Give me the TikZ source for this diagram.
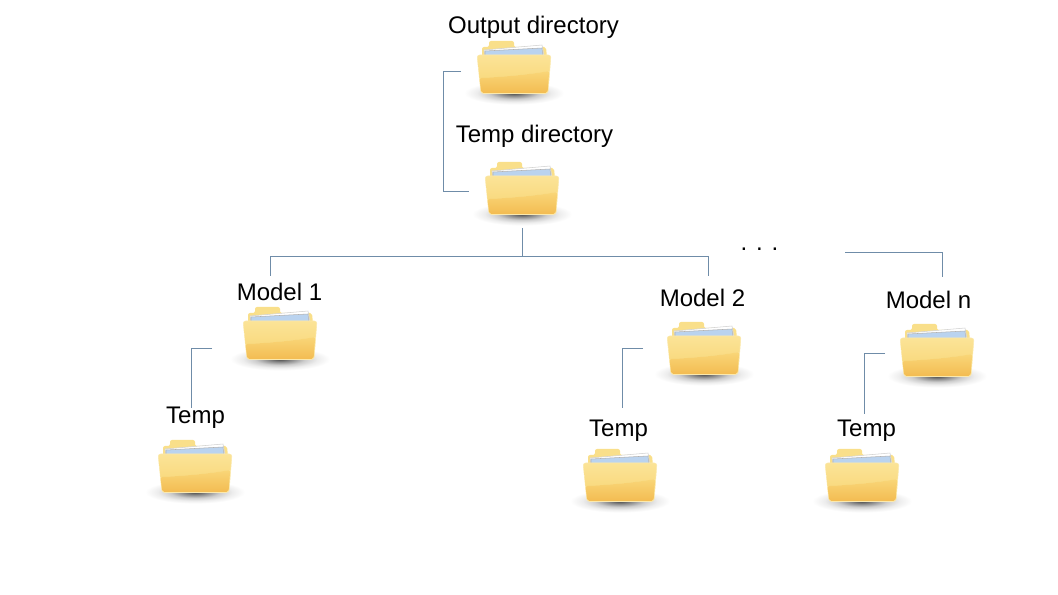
\documentclass[tikz,border=0pt]{standalone}
\usepackage{fontspec}
\setmainfont{Liberation Sans}
\usepackage{xcolor}
\usetikzlibrary{calc}
\definecolor{linkblue}{HTML}{6F8CA8}
\definecolor{folderedge}{HTML}{FBE9AE}
\definecolor{foldertop}{HTML}{FBE396}
\definecolor{foldermid}{HTML}{F9DA80}
\definecolor{folderlow}{HTML}{F9D678}
\definecolor{folderend}{HTML}{F3BC52}
\definecolor{folderback}{HTML}{F9DF8A}
\definecolor{paperblue}{HTML}{BAD3EF}
\pgfdeclareradialshading{foldershadow}{\pgfpointorigin}{color(0bp)=(black!72); color(6bp)=(black!45); color(12bp)=(black!20); color(18bp)=(black!7); color(24bp)=(white); color(50bp)=(white)}
\tikzset{
    link/.style={draw=linkblue, line width=0.65pt, line join=miter},
    lbl/.style={anchor=base, inner sep=0pt, font=\fontsize{18}{20}\selectfont},
    folder/.pic={
      % shadow
      \shade[shading=foldershadow] (0,-1) ellipse (52 and 12);
      % back and tab
      \fill[fill=folderback, rounded corners=1.5pt] (-32,-36)--(-32,-47)--(-25,-47)--(-25,-53)--(0,-53)--(0,-47)--(32,-47)--(33,-36)--cycle;
      % papers
      \draw[draw=black!18, fill=white] (-30,-44)--(28,-49)--(30,-38)--(-29,-38)--cycle;
      \draw[draw=black!30, fill=paperblue] (-29,-43)--(28,-46)--(29,-38)--(-29,-38)--cycle;
      % front
      \fill[draw=folderedge, fill=foldertop, rounded corners=2pt] (-37,-39)--(37,-39)--(34,-.5)--(-33,-.5)--cycle;
      \shade[top color=foldertop, bottom color=foldermid] (-36,-38) -- (36,-38) -- (35.2,-23) .. controls (12,-19) and (-12,-17) .. (-34.5,-16) -- cycle;
      \shade[top color=folderlow, bottom color=folderend, rounded corners=1.5pt] (-34.5,-16) .. controls (-12,-17) and (12,-19) .. (35.2,-23) -- (33.5,-1.1) -- (-32.7,-1.1) -- cycle;
    }
}
\begin{document}
\begin{tikzpicture}[x=0.75pt, y=-0.75pt]
\useasboundingbox (0,0) rectangle (1058,595);

%Folders
\pic at (514,94) {folder};
\pic at (522,215) {folder};
\pic at (280,360) {folder};
\pic at (704,375) {folder};
\pic at (937,377) {folder};
\pic at (195,493) {folder};
\pic at (620,502) {folder};
\pic at (862,502) {folder};

%Labels
\node[lbl] (output) at (533.5,34) {Output directory};
\node[lbl] (temp) at (534.5,143) {Temp directory};
\node[lbl] (model1) at (279.5,301) {Model 1};
\node[lbl] (model2) at (702.5,307) {Model 2};
\node[lbl] (modeln) at (928.5,309) {Model n};
\node[lbl] (temp1) at (195.5,424) {Temp};
\node[lbl] (temp2) at (618.5,437) {Temp};
\node[lbl] (tempn) at (866.5,437) {Temp};
\node[lbl] (dots) at (759.5,251) {. . .};

%Connector ends
\coordinate (out) at (461,71);
\coordinate (tmp) at (469,191);
\coordinate (stem) at (522,228);
\coordinate (fork) at (522,256);
\coordinate (m1) at (270,276);
\coordinate (m2) at (708,276);
\coordinate (mnstart) at (845,252.5);
\coordinate (mn) at (942,277);
\coordinate (a1) at (212,348);
\coordinate (b1) at (191,408);
\coordinate (a2) at (643,348);
\coordinate (b2) at (622,408);
\coordinate (a3) at (885,353);
\coordinate (b3) at (864,414);

\draw[link] (out)--(out-|443,0)--(tmp-|443,0)--(tmp);
\draw[link] (stem)--(fork);
\draw[link] (m1)--(m1|-fork)--(m2|-fork)--(m2);
\draw[link] (mnstart)--(mnstart-|mn)--(mn);
\draw[link] (a1)--(a1-|b1)--(b1);
\draw[link] (a2)--(a2-|b2)--(b2);
\draw[link] (a3)--(a3-|b3)--(b3);
\end{tikzpicture}
\end{document}
